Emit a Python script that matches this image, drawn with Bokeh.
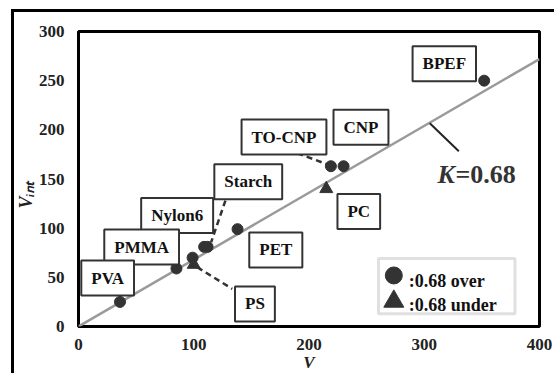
from bokeh.plotting import figure
from bokeh.models import Range1d, FixedTicker, Label, BoxAnnotation, Title
from bokeh.embed import file_html
from bokeh.resources import INLINE

# ---------------- data ----------------
over_V = [36, 85, 99, 109, 112, 138, 219, 230, 352]
over_Vint = [25, 59, 70, 81, 81, 99, 163, 163, 250]
under_V = [100, 215]
under_Vint = [63, 140]
K = 0.68
fit_V = [0, 400]
fit_Vint = [0, K * 400]
names = ["BPEF", "CNP", "TO-CNP", "Starch", "Nylon6", "PMMA", "PVA", "PS", "PET", "PC"]
x_ticks = [0, 100, 200, 300, 400]
y_ticks = [0, 50, 100, 150, 200, 250, 300]
legend_labels = [":0.68 over", ":0.68 under"]

# ---------------- annotation layout ----------------
name_x = [317.4, 245.1, 178.3, 147.3, 85.6, 54.8, 25.3, 153.1, 171.2, 243.2]
name_y = [267.2, 202.7, 192.7, 147.2, 112.9, 80.8, 49.3, 22.9, 77.8, 116.9]
leader_x0 = [189.8, 127.5, 103.0]
leader_y0 = [176.2, 128.1, 60.3]
leader_x1 = [218.7, 115.1, 133.4]
leader_y1 = [163.7, 85.7, 38.3]

FONT = "Liberation Serif"
DARK = "#333333"

p = figure(width=554, height=373, x_range=Range1d(0, 400), y_range=Range1d(0, 300),
           output_backend="svg", toolbar_location=None,
           min_border_left=78, min_border_right=15, min_border_top=31, min_border_bottom=47)
p.outline_line_color = "black"
p.outline_line_width = 3
p.xgrid.visible = False
p.ygrid.visible = False
p.background_fill_color = "white"
p.border_fill_color = None
# outer frame of the figure picture (left and top edges)
p.styles = {"background": "linear-gradient(#000,#000) 10.5px 8.5px / 3px 500px no-repeat, "
                          "linear-gradient(#000,#000) 10.5px 8.5px / 700px 3px no-repeat, #ffffff"}

for ax, ticks in ((p.xaxis, x_ticks), (p.yaxis, y_ticks)):
    ax.ticker = FixedTicker(ticks=ticks)
    ax.major_label_text_font = FONT
    ax.major_label_text_font_style = "bold"
    ax.major_label_text_font_size = "17px"
    ax.major_label_text_color = "#222222"
    ax.major_tick_line_color = None
    ax.minor_tick_line_color = None
    ax.axis_line_color = None
    ax.major_tick_out = 0
    ax.major_tick_in = 0
p.yaxis.major_label_standoff = 14
p.xaxis.major_label_standoff = 12

# axis titles
p.add_layout(Title(text="V", align="center", vertical_align="bottom", standoff=-3,
                   text_font=FONT, text_font_style="bold italic", text_font_size="17px",
                   text_color="#222222"), "below")
p.add_layout(Title(text="V\u1d62\u2099\u209c", align="left", offset=118, standoff=0,
                   text_font=FONT, text_font_style="bold italic", text_font_size="18px",
                   text_color="#222222"), "left")

# legend box
p.add_layout(BoxAnnotation(left=260.3, right=378.7, top=69.2, bottom=12.9, fill_color="white",
                           fill_alpha=1, line_color="#999999", line_width=3, level="underlay"))

# fit line
p.line(fit_V, fit_Vint, line_color="#9a9a9a", line_width=2.5)

# leader lines
p.segment(leader_x0, leader_y0, leader_x1, leader_y1, line_color=DARK, line_width=2.5,
          line_dash="6 4")
p.segment([304.8], [206.7], [330.0], [178.3], line_color="#222222", line_width=2)

# markers
p.scatter(over_V, over_Vint, marker="circle", size=11, fill_color=DARK, line_color=DARK)
p.scatter(under_V, under_Vint, marker="triangle", size=13, fill_color=DARK, line_color=DARK)

# name boxes
for nm, x, y in zip(names, name_x, name_y):
    p.add_layout(Label(x=x, y=y, text=nm, text_align="center", text_baseline="middle",
                       text_font=FONT, text_font_style="bold", text_font_size="17px",
                       text_color="#111111", background_fill_color="white",
                       border_line_color=DARK, border_line_width=2,
                       padding=dict(left=10, right=10, top=8, bottom=8)))

# K label
p.add_layout(Label(x=311.5, y=154.6, text="K", text_font=FONT, text_font_style="bold italic",
                   text_font_size="26px", text_color="#333333", text_baseline="alphabetic"))
p.add_layout(Label(x=327.1, y=154.6, text="=0.68", text_font=FONT, text_font_style="bold",
                   text_font_size="26px", text_color="#333333", text_baseline="alphabetic"))

# legend
p.scatter([273.6], [51.9], marker="circle", size=17, fill_color=DARK, line_color=DARK)
p.scatter([273.6], [25.5], marker="triangle", size=20, fill_color=DARK, line_color=DARK)
for lab, y in zip(legend_labels, [45.8, 21.4]):
    p.add_layout(Label(x=286.6, y=y, text=lab, text_font=FONT, text_font_style="bold",
                       text_font_size="18px", text_color="#111111", text_baseline="alphabetic"))

open("out.html", "w").write(file_html(p, INLINE))
